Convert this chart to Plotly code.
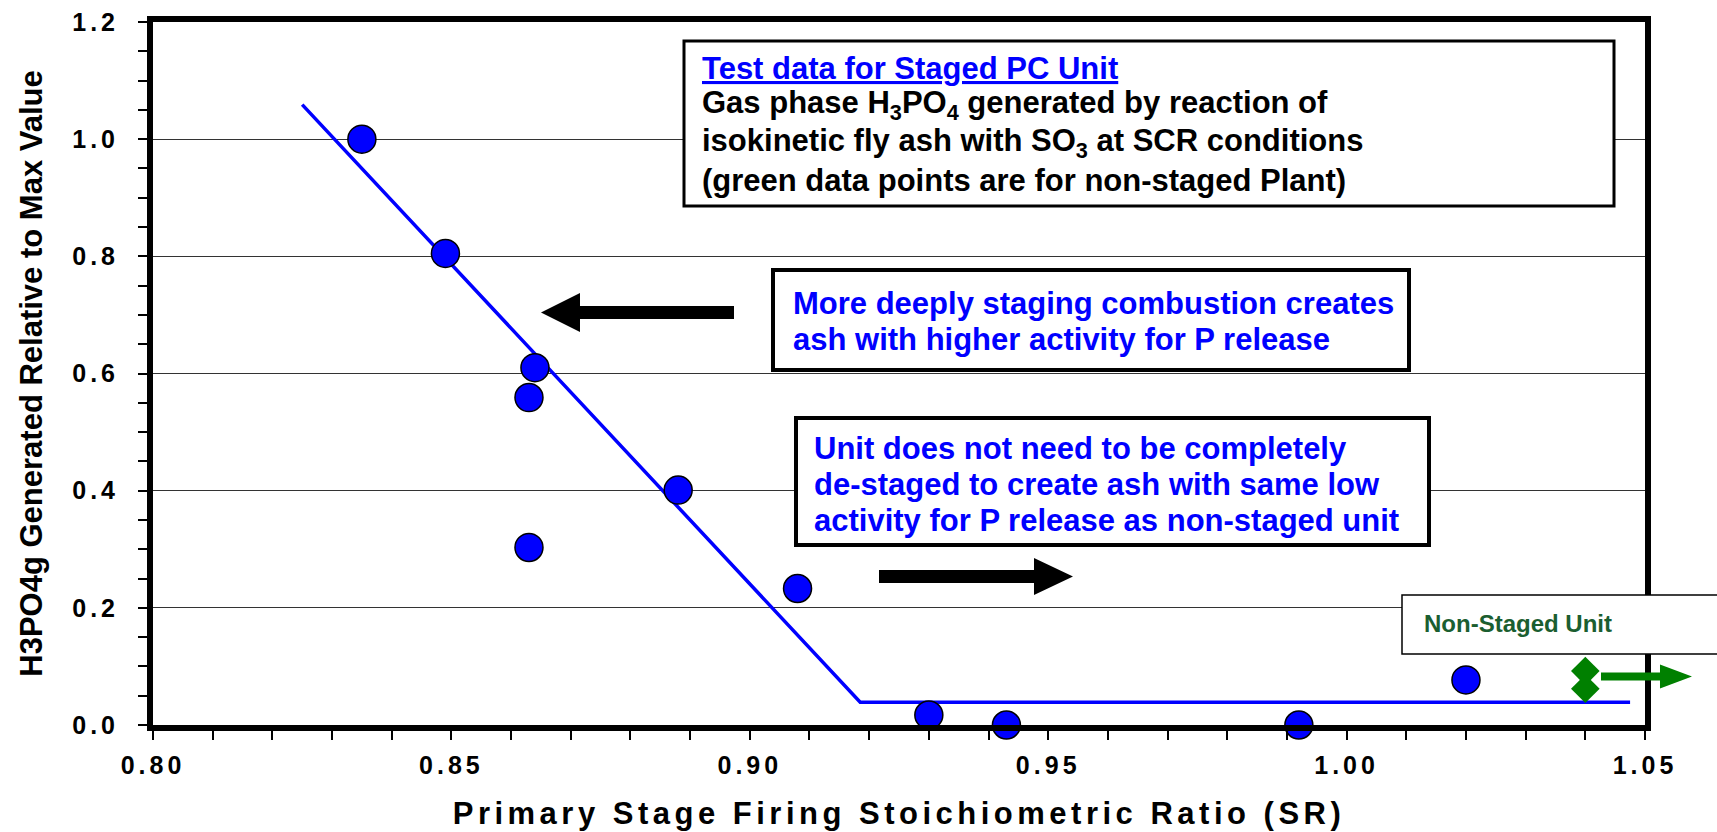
import plotly.graph_objects as go

# staged PC unit test data
sr_staged = [0.835, 0.849, 0.864, 0.863, 0.863, 0.888, 0.908, 0.930, 0.943, 0.992, 1.020]
h3po4_staged = [1.000, 0.805, 0.610, 0.559, 0.303, 0.401, 0.233, 0.017, 0.000, 0.000, 0.077]

# non-staged plant
sr_nonstaged = [1.040, 1.040]
h3po4_nonstaged = [0.092, 0.062]

# piecewise trend line
fit_sr = [0.825, 0.9185, 1.0475]
fit_h3po4 = [1.059, 0.039, 0.039]

x_tickvals = [0.80, 0.85, 0.90, 0.95, 1.00, 1.05]
x_ticklabels = ['0.80', '0.85', '0.90', '0.95', '1.00', '1.05']
y_tickvals = [0.0, 0.2, 0.4, 0.6, 0.8, 1.0, 1.2]
y_ticklabels = ['0.0', '0.2', '0.4', '0.6', '0.8', '1.0', '1.2']

FONT = 'Liberation Sans, Arial, sans-serif'
BLUE = '#0000ff'
GREEN = '#008000'

W, H = 1717, 832
ML, MR, MT, MB = 153, 72, 22, 107
PW, PH = W - ML - MR, H - MT - MB


def px_x(px):
    return (px - ML) / PW


def px_y(py):
    return (H - MB - py) / PH


def spaced(s, ls):
    return '<span style="letter-spacing:%spx">%s</span>' % (ls, s)


def arrow_path(x_tail, x_base, x_tip, yc, shaft, head):
    pts = [(x_tail, yc - shaft / 2), (x_base, yc - shaft / 2), (x_base, yc - head),
           (x_tip, yc), (x_base, yc + head), (x_base, yc + shaft / 2),
           (x_tail, yc + shaft / 2)]
    return 'M ' + ' L '.join('%.5f,%.5f' % (px_x(x), px_y(y)) for x, y in pts) + ' Z'


def box_rect(left, top, right, bottom, width):
    return dict(type='rect', xref='paper', yref='paper', layer='above',
                x0=px_x(left), x1=px_x(right), y0=px_y(bottom), y1=px_y(top),
                line=dict(color='black', width=width), fillcolor='white')


def text_lines(lines, left, first_y, step, size=31, color='black'):
    out = []
    for i, line in enumerate(lines):
        out.append(dict(xref='paper', yref='paper', x=px_x(left), y=px_y(first_y + i * step),
                        xanchor='left', yanchor='middle', showarrow=False,
                        font=dict(family=FONT, size=size, color=color),
                        text='<b>%s</b>' % line))
    return out


fig = go.Figure()

fig.add_trace(go.Scatter(
    x=fit_sr, y=fit_h3po4, mode='lines',
    line=dict(color=BLUE, width=3.5), hoverinfo='skip',
))
fig.add_trace(go.Scatter(
    x=sr_staged, y=h3po4_staged, mode='markers', cliponaxis=False,
    marker=dict(symbol='circle', size=28, color=BLUE, line=dict(color='black', width=1.5)),
))
fig.add_trace(go.Scatter(
    x=sr_nonstaged, y=h3po4_nonstaged, mode='markers', cliponaxis=False,
    marker=dict(symbol='diamond', size=22, color=GREEN, line=dict(width=0)),
))

box1 = ['<span style="color:#0000ff;text-decoration:underline">Test data for Staged PC Unit</span>',
        'Gas phase H<sub>3</sub>PO<sub>4</sub> generated by reaction of',
        'isokinetic fly ash with SO<sub>3</sub> at SCR conditions',
        '(green data points are for non-staged Plant)']
box2 = ['More deeply staging combustion creates',
        'ash with higher activity for P release']
box3 = ['Unit does not need to be completely',
        'de-staged to create ash with same low',
        'activity for P release as non-staged unit']

annotations = (
    text_lines(box1, 700, 68, 37.5)
    + text_lines(box2, 791, 303, 36, color=BLUE)
    + text_lines(box3, 812, 449, 35.5, color=BLUE)
    + text_lines(['Non-Staged Unit'], 1422, 623, 0, size=24, color='#1b5e30')
)

shapes = [
    box_rect(684, 41, 1614, 206, 3),
    box_rect(773, 270, 1409, 370, 4),
    box_rect(796, 418, 1429, 545, 4),
    box_rect(1402, 595, 1760, 654, 1.5),
    dict(type='path', xref='paper', yref='paper', path=arrow_path(734, 580, 541, 312.5, 13, 19.5),
         fillcolor='black', line=dict(width=0)),
    dict(type='path', xref='paper', yref='paper', path=arrow_path(879, 1034, 1073, 576.5, 13, 18.5),
         fillcolor='black', line=dict(width=0)),
    dict(type='path', xref='paper', yref='paper', path=arrow_path(1601, 1660, 1692, 676.5, 8, 12),
         fillcolor=GREEN, line=dict(width=0)),
]

fig.update_layout(
    width=W, height=H,
    margin=dict(l=ML, r=MR, t=MT, b=MB),
    paper_bgcolor='white', plot_bgcolor='white',
    showlegend=False,
    font=dict(family=FONT, color='black'),
    annotations=annotations,
    shapes=shapes,
    xaxis=dict(
        range=[0.80, 1.05], automargin=False,
        tickmode='array', tickvals=x_tickvals,
        ticktext=[spaced('<b>%s</b>' % t, 4) for t in x_ticklabels],
        tickfont=dict(size=25, family=FONT, color='black'),
        ticks='outside', ticklen=9, tickwidth=1.5, tickcolor='black',
        ticklabelstandoff=4,
        minor=dict(tickmode='linear', tick0=0.80, dtick=0.01, ticks='outside',
                   ticklen=9, tickwidth=1.5, tickcolor='black', showgrid=False),
        showgrid=False, zeroline=False,
        showline=True, linecolor='black', linewidth=6, mirror=True,
        title=dict(text=spaced('<b>Primary Stage Firing Stoichiometric Ratio (SR)</b>', 4.5),
                   font=dict(size=31, family=FONT, color='black'), standoff=26),
    ),
    yaxis=dict(
        range=[0, 1.2], automargin=False,
        tickmode='array', tickvals=y_tickvals,
        ticktext=[spaced('<b>%s</b>' % t, 4) for t in y_ticklabels],
        tickfont=dict(size=25, family=FONT, color='black'),
        ticks='outside', ticklen=9, tickwidth=1.5, tickcolor='black',
        ticklabelstandoff=14,
        minor=dict(tickmode='linear', tick0=0.0, dtick=0.05, ticks='outside',
                   ticklen=9, tickwidth=1.5, tickcolor='black', showgrid=False),
        showgrid=True, gridcolor='#333333', gridwidth=1, zeroline=False,
        showline=True, linecolor='black', linewidth=6, mirror=True,
        title=dict(text='<b>H3PO4g Generated Relative to Max Value</b>',
                   font=dict(size=31, family=FONT, color='black'), standoff=22),
    ),
)

# page body has a default 8px margin; drop it so the figure sits at the corner
fig.write_html("out.html", config={'displayModeBar': False},
               post_script="document.body.style.margin='0';")
